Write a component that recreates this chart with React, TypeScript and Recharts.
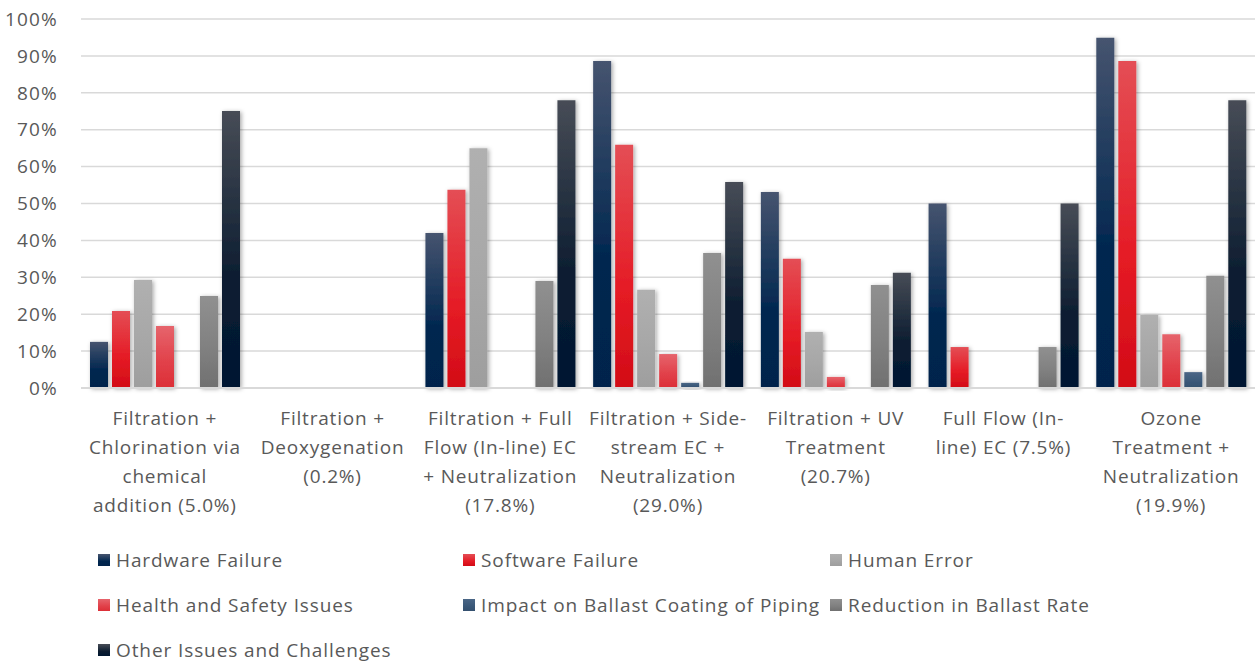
import React from "react";
import { BarChart, Bar, XAxis, YAxis, CartesianGrid, Legend } from "recharts";

const categories = [
  "Filtration + Chlorination via chemical addition (5.0%)",
  "Filtration + Deoxygenation (0.2%)",
  "Filtration + Full Flow (In-line) EC + Neutralization (17.8%)",
  "Filtration + Side-stream EC + Neutralization (29.0%)",
  "Filtration + UV Treatment (20.7%)",
  "Full Flow (In-line) EC (7.5%)",
  "Ozone Treatment + Neutralization (19.9%)",
];

const tickLabels: string[][] = [
  ["Filtration +", "Chlorination via", "chemical", "addition (5.0%)"],
  ["Filtration +", "Deoxygenation", "(0.2%)"],
  ["Filtration + Full", "Flow (In-line) EC", "+ Neutralization", "(17.8%)"],
  ["Filtration + Side-", "stream EC +", "Neutralization", "(29.0%)"],
  ["Filtration + UV", "Treatment", "(20.7%)"],
  ["Full Flow (In-", "line) EC (7.5%)"],
  ["Ozone", "Treatment +", "Neutralization", "(19.9%)"],
];

const hardware = [12.5, 0, 42, 88.6, 53.1, 50, 94.9];
const software = [20.9, 0, 53.7, 65.9, 35, 11.1, 88.6];
const human = [29.3, 0, 65, 26.6, 15.2, 0, 19.8];
const health = [16.8, 0, 0, 9.2, 3, 0, 14.6];
const impact = [0, 0, 0, 1.4, 0, 0, 4.3];
const reduction = [24.9, 0, 29, 36.6, 27.9, 11.1, 30.4];
const other = [75.1, 0, 78, 55.8, 31.2, 50, 78];

const yTicks = [0, 10, 20, 30, 40, 50, 60, 70, 80, 90, 100];

const seriesNames = [
  "Hardware Failure",
  "Software Failure",
  "Human Error",
  "Health and Safety Issues",
  "Impact on Ballast Coating of Piping",
  "Reduction in Ballast Rate",
  "Other Issues and Challenges",
];

const seriesKeys = ["hardware", "software", "human", "health", "impact", "reduction", "other"];
const seriesValues = [hardware, software, human, health, impact, reduction, other];

// gradient stops: [top, middle, bottom, middleOffset]
const gradients: [string, string, string, string][] = [
  ["#46546f", "#00264f", "#02244c", "62%"],
  ["#e44e55", "#e51b25", "#d20c16", "60%"],
  ["#b0b0b0", "#a8a8a8", "#9e9e9e", "50%"],
  ["#e6646c", "#e14049", "#dc2f37", "60%"],
  ["#4a6686", "#3a5878", "#34506f", "60%"],
  ["#909090", "#818181", "#707070", "55%"],
  ["#474c56", "#0b1c30", "#001731", "62%"],
];

const data = categories.map((c, i) => {
  const row: Record<string, number | string> = { name: c };
  seriesKeys.forEach((k, j) => {
    row[k] = seriesValues[j][i];
  });
  return row;
});

const FONT = "'Open Sans', 'Noto Sans', sans-serif";
const TEXT = "#595959";

const CategoryTick = (props: any) => {
  const { x, y, payload } = props;
  const idx = categories.indexOf(payload.value);
  const lines = idx >= 0 ? tickLabels[idx] : [String(payload.value)];
  return (
    <g>
      {lines.map((l, i) => (
        <text
          key={i}
          x={x}
          y={y + 36.5 + i * 29.3}
          textAnchor="middle"
          fill={TEXT}
          fontSize={19}
          letterSpacing={0.8}
          fontFamily={FONT}
        >
          {l}
        </text>
      ))}
    </g>
  );
};

const LegendContent = () => (
  <div
    style={{
      display: "grid",
      gridTemplateColumns: "365px 367px 365px",
      gridAutoRows: "45px",
      paddingLeft: 98,
      fontFamily: FONT,
      fontSize: 19,
      letterSpacing: "0.9px",
      color: TEXT,
    }}
  >
    {seriesNames.map((n, i) => (
      <div key={n} style={{ display: "flex", alignItems: "center", whiteSpace: "nowrap" }}>
        <span
          style={{
            display: "inline-block",
            width: 12,
            height: 12,
            marginRight: 6,
            flexShrink: 0,
            background: `linear-gradient(${gradients[i][0]}, ${gradients[i][1]} ${gradients[i][3]}, ${gradients[i][2]})`,
          }}
        />
        <span>{n}</span>
      </div>
    ))}
  </div>
);

export default function App() {
  return (
    <div style={{ position: "absolute", left: 0, top: 0, background: "#fff" }}>
      <BarChart
        width={1257}
        height={661}
        data={data}
        margin={{ top: 19, right: 2, left: 0, bottom: 0 }}
        barSize={18}
        barGap={4}
      >
        <defs>
          {gradients.map((g, i) => (
            <linearGradient key={i} id={`grad${i}`} x1="0" y1="0" x2="0" y2="1">
              <stop offset="0%" stopColor={g[0]} />
              <stop offset={g[3]} stopColor={g[1]} />
              <stop offset="100%" stopColor={g[2]} />
            </linearGradient>
          ))}
          <filter id="shadow" x="-50%" y="-20%" width="200%" height="140%">
            <feDropShadow dx="1.5" dy="1" stdDeviation="2.2" floodColor="#000" floodOpacity="0.35" />
          </filter>
        </defs>
        <CartesianGrid vertical={false} stroke="#d9d9d9" strokeWidth={1.5} />
        <XAxis
          dataKey="name"
          interval={0}
          tickLine={false}
          axisLine={{ stroke: "#d9d9d9", strokeWidth: 2 }}
          tick={<CategoryTick />}
          tickSize={0}
          tickMargin={0}
          height={149}
        />
        <YAxis
          width={81}
          domain={[0, 100]}
          ticks={yTicks}
          tickFormatter={(v: number) => `${v}%`}
          axisLine={false}
          tickLine={false}
          tickSize={0}
          tickMargin={23}
          tick={{ fill: TEXT, fontSize: 19, fontFamily: FONT, letterSpacing: 1.2 }}
        />
        {seriesKeys.map((k, i) => (
          <Bar
            key={k}
            dataKey={k}
            name={seriesNames[i]}
            fill={`url(#grad${i})`}
            filter="url(#shadow)"
            isAnimationActive={false}
          />
        ))}
        <Legend
          content={<LegendContent />}
          wrapperStyle={{ position: "absolute", left: 0, top: 537, width: 1257, height: 124 }}
        />
      </BarChart>
    </div>
  );
}
